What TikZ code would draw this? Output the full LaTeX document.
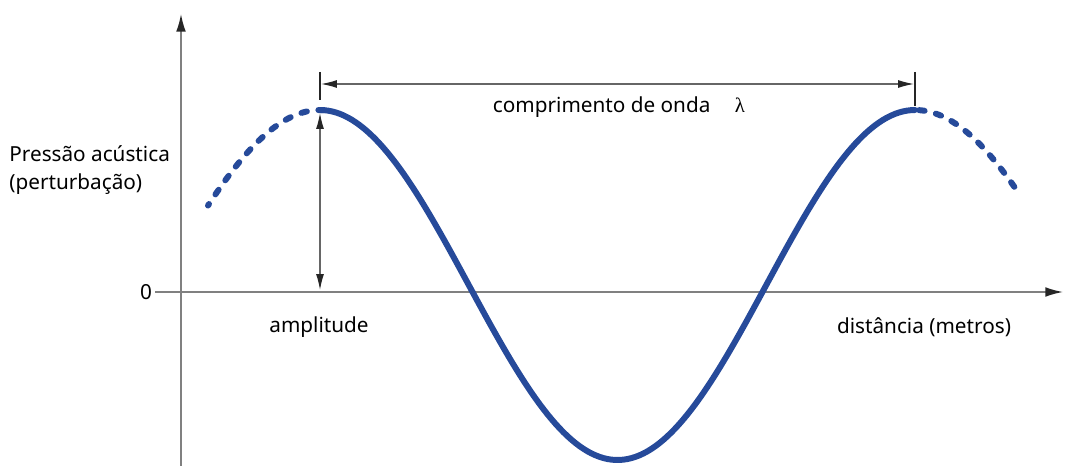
\documentclass[tikz,border=0pt]{standalone}
\usepackage{fontspec}
\setmainfont{Noto Sans}
\newfontfamily\lamfont{Liberation Serif}
\usetikzlibrary{arrows.meta}
\definecolor{waveblue}{RGB}{38,74,154}

\begin{document}
\begin{tikzpicture}[x=0.02cm, y=-0.02cm,
  axis/.style={draw=gray, line width=0.9pt, -{Latex[length=10pt, width=5.5pt, color=black!85]}},
  dim/.style={draw=gray!80!black, line width=0.7pt, {Latex[length=9pt, width=4.5pt, color=black!85]}-{Latex[length=9pt, width=4.5pt, color=black!85]}},
  tick/.style={draw=black!85, line width=0.7pt},
  wave/.style={draw=waveblue, line width=3.4pt, line cap=round},
  wavedash/.style={wave, dash pattern=on 3.2pt off 6.6pt},
  lbl/.style={font=\fontsize{11.8}{13.8}\selectfont, inner sep=0pt}
]
\useasboundingbox (0,0) rectangle (1065,466);

% axes
\coordinate (ybot) at (181,466);
\coordinate (ytop) at (181,14);
\coordinate (xleft) at (155,292);
\coordinate (xright) at (1063,292);
\draw[axis] (ybot) -- (ytop);
\draw[axis] (xleft) -- (xright);

% wave
\draw[wave] plot[domain=320:915, samples=150] (\x, {285-175*cos((\x-320)/595*360)});
\draw[wavedash] plot[domain=324:208, samples=40] (\x, {285-175*cos((\x-320)/640*360)});
\draw[wavedash] plot[domain=919:1020, samples=40] (\x, {285-175*cos((\x-915)/640*360)});

% wavelength and amplitude marks
\coordinate (tickA) at (320,72);
\coordinate (tickAend) at (320,100);
\coordinate (tickB) at (915,72);
\coordinate (tickBend) at (915,106);
\draw[tick] (tickA) -- (tickAend);
\draw[tick] (tickB) -- (tickBend);
\coordinate (lamA) at (321,84);
\coordinate (lamB) at (914,84);
\draw[dim] (lamA) -- (lamB);
\coordinate (ampTop) at (320,113);
\coordinate (ampBot) at (320,290);
\draw[dim] (ampTop) -- (ampBot);

% labels
\node[lbl] (lambda) at (619,107) {comprimento de onda\hspace{14pt}{\lamfont λ}};
\node[lbl, anchor=west, align=left] (ylabel) at (9,170) {Pressão acústica\\[2pt](perturbação)};
\node[lbl] (zero) at (146,292) {0};
\node[lbl] (amp) at (319,327) {amplitude};
\node[lbl] (dist) at (924,327) {distância (metros)};
\end{tikzpicture}
\end{document}
